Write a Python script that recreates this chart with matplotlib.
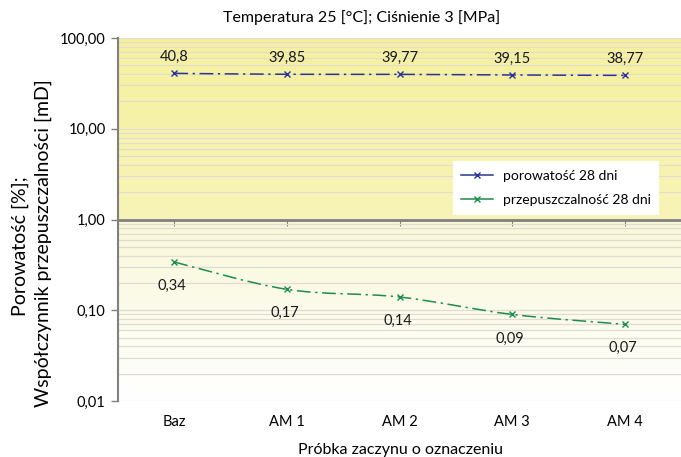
import numpy as np
import matplotlib
matplotlib.use('Agg')
import matplotlib.pyplot as plt
from matplotlib.path import Path
from matplotlib.patches import PathPatch
from matplotlib.lines import Line2D
from matplotlib.ticker import FixedLocator, LogLocator, NullFormatter

plt.rcParams['font.family'] = ['Lato', 'DejaVu Sans']

# data
categories = ['Baz', 'AM 1', 'AM 2', 'AM 3', 'AM 4']
porowatosc = [40.8, 39.85, 39.77, 39.15, 38.77]
przepuszczalnosc = [0.34, 0.17, 0.14, 0.09, 0.07]
porow_labels = ['40,8', '39,85', '39,77', '39,15', '38,77']
przep_labels = ['0,34', '0,17', '0,14', '0,09', '0,07']
y_ticks = [0.01, 0.1, 1, 10, 100]
y_ticklabels = ['0,01', '0,10', '1,00', '10,00', '100,00']

blue = '#2b3494'
green = '#1e8c4a'
grid_c = '#e0ddd0'
axis_c = '#808080'


def smooth_path(xs, ys):
    # excel-like smoothed line (catmull-rom -> bezier) in (x, log10 y) space
    p = np.column_stack([xs, np.log10(ys)])
    verts = [p[0]]
    codes = [Path.MOVETO]
    n = len(p)
    for i in range(n - 1):
        p0 = p[i - 1] if i > 0 else p[i]
        p3 = p[i + 2] if i + 2 < n else p[i + 1]
        c1 = p[i] + (p[i + 1] - p0) / 6.0
        c2 = p[i + 1] - (p3 - p[i]) / 6.0
        verts += [c1, c2, p[i + 1]]
        codes += [Path.CURVE4] * 3
    verts = np.array(verts)
    verts[:, 1] = 10 ** verts[:, 1]
    return Path(verts, codes)


fig = plt.figure(figsize=(6.81, 4.57), dpi=100)
ax = fig.add_axes([0.1733, 0.1225, 0.8267, 0.7943])

x = np.arange(len(categories)) + 0.5
ax.set_yscale('log')

# background gradients
t = np.linspace(0, 1, 64)[:, None]
c_top_hi = np.array([246, 240, 158]) / 255.0
c_top_lo = np.array([248, 244, 184]) / 255.0
img_top = c_top_lo + (c_top_hi - c_top_lo) * t[..., None]
ax.imshow(img_top, extent=[0, 1, 0.5, 1], origin='lower', aspect='auto',
          transform=ax.transAxes, zorder=0, interpolation='bilinear')
c_bot_hi = np.array([249, 247, 216]) / 255.0
c_bot_lo = np.array([255, 255, 255]) / 255.0
img_bot = c_bot_lo + (c_bot_hi - c_bot_lo) * t[..., None]
ax.imshow(img_bot, extent=[0, 1, 0, 0.5], origin='lower', aspect='auto',
          transform=ax.transAxes, zorder=0, interpolation='bilinear')
ax.set_xlim(0, len(categories))
ax.set_ylim(0.01, 100)

# grid
ax.yaxis.set_major_locator(FixedLocator(y_ticks))
ax.set_yticklabels(y_ticklabels)
ax.yaxis.set_minor_locator(LogLocator(base=10, subs=np.arange(2, 10)))
ax.yaxis.set_minor_formatter(NullFormatter())
ax.grid(axis='y', which='both', color=grid_c, linewidth=0.9, zorder=1)
ax.set_axisbelow(True)

# axes look
for s in ['top', 'right']:
    ax.spines[s].set_visible(False)
ax.spines['left'].set_color(axis_c)
ax.spines['left'].set_linewidth(1.5)
ax.spines['bottom'].set_position(('data', 1))
ax.spines['bottom'].set_color(axis_c)
ax.spines['bottom'].set_linewidth(2.0)
ax.spines['bottom'].set_zorder(2)
ax.set_xticks(x)
ax.tick_params(axis='x', length=4, color=axis_c, labelbottom=False)
ax.tick_params(axis='y', which='major', length=5, color=axis_c, width=1,
               labelsize=10.5, pad=4)
ax.tick_params(axis='y', which='minor', length=0)

sec = ax.secondary_xaxis('bottom')
sec.set_xticks(x)
sec.set_xticklabels(categories)
sec.spines['bottom'].set_visible(False)
sec.tick_params(length=0, labelsize=10.5, pad=10)

# series
dash = (0, (9, 3, 1.5, 3))
ax.add_patch(PathPatch(smooth_path(x, porowatosc), fill=False, edgecolor=blue,
                       linewidth=1.1, linestyle=dash, zorder=3))
ax.add_patch(PathPatch(smooth_path(x, przepuszczalnosc), fill=False, edgecolor=green,
                       linewidth=1.1, linestyle=dash, zorder=3))
ax.plot(x, porowatosc, linestyle='none', marker='x', markersize=5,
        markeredgewidth=1.0, color=blue, zorder=4)
ax.plot(x, przepuszczalnosc, linestyle='none', marker='x', markersize=5,
        markeredgewidth=1.0, color=green, zorder=4)

for xi, yi, lab in zip(x, porowatosc, porow_labels):
    ax.annotate(lab, (xi, yi), xytext=(0, 16), textcoords='offset pixels',
                ha='center', va='center', fontsize=10.5, color='#1a1a1a')
for xi, yi, lab in zip(x, przepuszczalnosc, przep_labels):
    ax.annotate(lab, (xi, yi), xytext=(-2, -24), textcoords='offset pixels',
                ha='center', va='center', fontsize=10.5, color='#1a1a1a')

handles = [Line2D([], [], color=blue, marker='x', markersize=5, linewidth=1.1),
           Line2D([], [], color=green, marker='x', markersize=5, linewidth=1.1)]
leg = ax.legend(handles, ['porowatość 28 dni', 'przepuszczalność 28 dni'],
                loc='upper left', bbox_to_anchor=(0.595, 0.66), fontsize=10,
                frameon=True, fancybox=False, framealpha=1, edgecolor='none',
                facecolor='white', handlelength=2.3, handletextpad=0.7,
                borderpad=0.6, labelspacing=0.9, borderaxespad=0)
leg.set_zorder(5)

fig.text(362 / 681, 1 - 18 / 457, 'Temperatura 25 [°C]; Ciśnienie 3 [MPa]',
         ha='center', va='center', fontsize=11.5)
fig.text(400 / 681, 1 - 450 / 457, 'Próbka zaczynu o oznaczeniu', ha='center',
         va='center', fontsize=11.5)
fig.text(20 / 681, 1 - 246 / 457, 'Porowatość [%];', rotation=90,
         ha='center', va='center', fontsize=14)
fig.text(43 / 681, 1 - 243 / 457, 'Współczynnik przepuszczalności [mD]',
         rotation=90, ha='center', va='center', fontsize=14)

fig.savefig('out.png', dpi=100)
